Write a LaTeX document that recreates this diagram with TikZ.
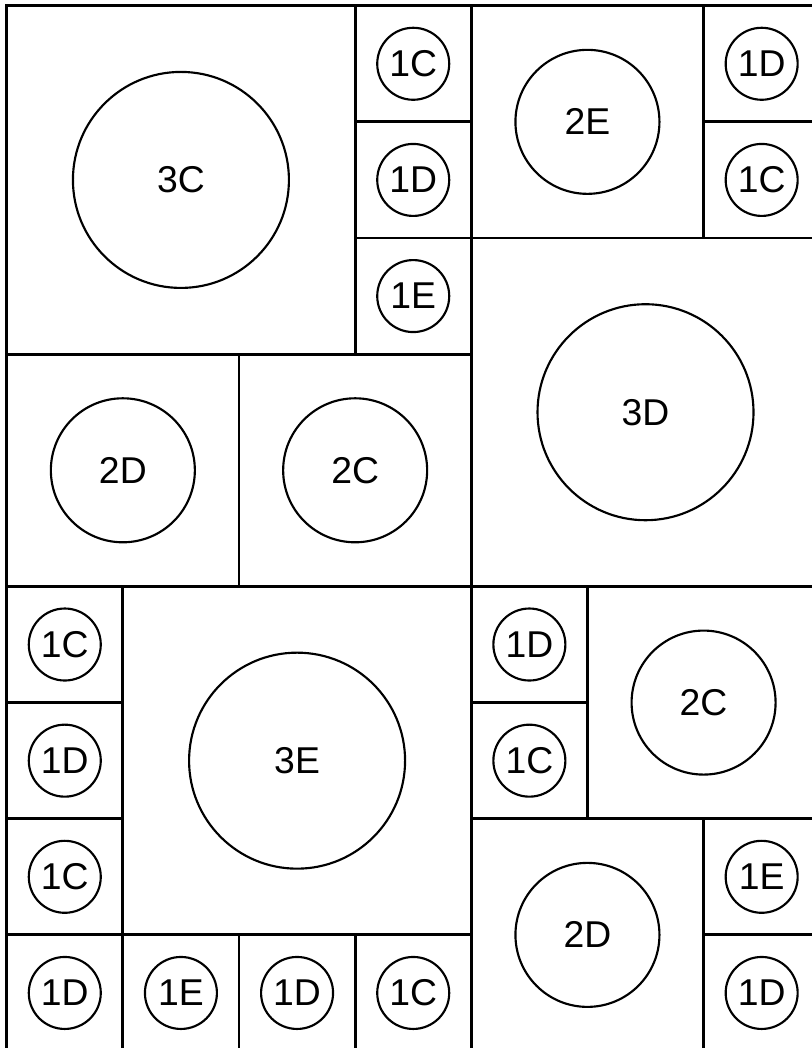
\documentclass[tikz,border=0pt]{standalone}
\usepackage{fontspec}
\setmainfont{Liberation Sans}
\tikzset{
  gridbox/.style={draw=black, line width=2.1pt},
  circ/.style={draw=black, circle, line width=1.6pt, inner sep=0pt, outer sep=0pt, text=black, font=\fontsize{28}{32}\selectfont},
  s1/.style={minimum size=54pt},
  s2/.style={minimum size=108pt},
  s3/.style={minimum size=162pt}
}
\begin{document}
\begin{tikzpicture}[x=87.11pt,y=-87.11pt]
\useasboundingbox (-5.03pt,4.28pt) rectangle (603.97pt,-781.72pt);
\clip (-5.03pt,4.28pt) rectangle (603.97pt,-781.72pt);
\fill[white] (-5.03pt,4.28pt) rectangle (603.97pt,-781.72pt);
\foreach \c/\r/\n/\t [count=\i] in {
  0/0/3/3C, 3/0/1/1C, 3/1/1/1D, 3/2/1/1E,
  4/0/2/2E, 6/0/1/1D, 6/1/1/1C,
  0/3/2/2D, 2/3/2/2C, 4/2/3/3D,
  0/5/1/1C, 0/6/1/1D, 0/7/1/1C, 0/8/1/1D,
  1/8/1/1E, 2/8/1/1D, 3/8/1/1C,
  1/5/3/3E, 4/5/1/1D, 4/6/1/1C,
  5/5/2/2C, 4/7/2/2D, 6/7/1/1E, 6/8/1/1D}
{
  \draw[gridbox] (\c,\r) rectangle ++(\n,\n);
  \node[circ, s\n] (k\i) at ({\c+\n/2},{\r+\n/2}) {\t};
}
\end{tikzpicture}
\end{document}
